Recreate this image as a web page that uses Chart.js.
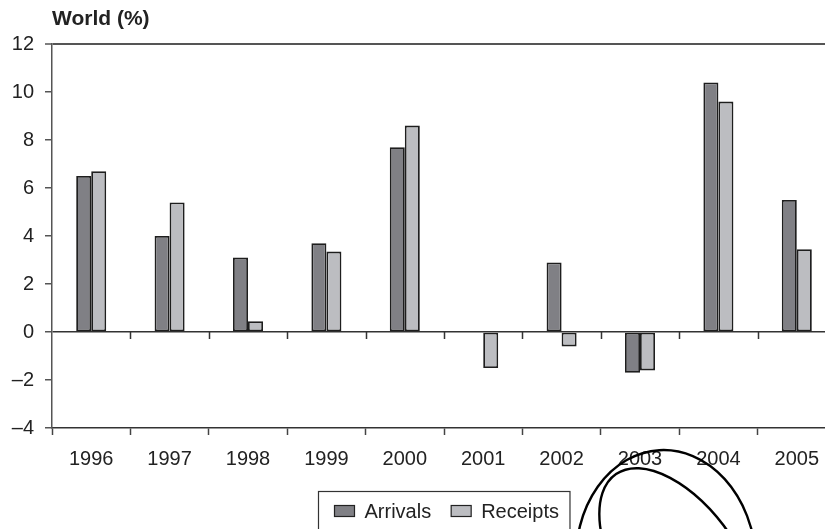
<!DOCTYPE html>
<html>
<head>
<meta charset="utf-8">
<script src="https://cdn.jsdelivr.net/npm/chart.js@4/dist/chart.umd.min.js"></script>
<style>
    html, body { margin: 0; padding: 0; background: #fff; overflow: hidden; }
    #wrap { width: 825px; height: 529px; overflow: hidden; position: relative; }
    #box { width: 845px; height: 540px; }
</style>
</head>
<body>
<div id="wrap"><div id="box"><canvas id="worldChart"></canvas></div></div>
<script>
const years = ['1996', '1997', '1998', '1999', '2000', '2001', '2002', '2003', '2004', '2005'];
const arrivals = [6.5, 4.0, 3.1, 3.7, 7.7, 0, 2.9, -1.7, 10.4, 5.5];
const receipts = [6.7, 5.4, 0.45, 3.35, 8.6, -1.5, -0.6, -1.6, 9.6, 3.45];
const yMin = -4, yMax = 12, yStep = 2;

const FONT = 'Arial, "Liberation Sans", sans-serif';

// titulo, marcas no zero, legenda com moldura e o circulo desenhado a mao
const extras = {
    id: 'extras',
    afterDatasetsDraw(chart) {
        const ctx = chart.ctx;
        const x = chart.scales.x, y = chart.scales.y;
        const y0 = y.getPixelForValue(0);
        ctx.save();
        ctx.strokeStyle = '#333';
        ctx.lineWidth = 1.5;
        ctx.beginPath();
        for (let i = 0; i < years.length - 1; i++) {
            const bx = Math.round((x.getPixelForValue(i) + x.getPixelForValue(i + 1)) / 2) + 0.5;
            ctx.moveTo(bx, y0);
            ctx.lineTo(bx, y0 + 7);
        }
        ctx.stroke();
        ctx.restore();
    },
    afterDraw(chart) {
        const ctx = chart.ctx;
        const area = chart.chartArea;
        ctx.save();

        // titulo
        ctx.fillStyle = '#222';
        ctx.font = 'bold 21px ' + FONT;
        ctx.textBaseline = 'middle';
        ctx.textAlign = 'left';
        ctx.fillText('World (%)', area.left, 19);

        // legenda
        ctx.font = '20px ' + FONT;
        const items = chart.data.datasets.map(d => ({ label: d.label, color: d.backgroundColor }));
        const widths = items.map(it => ctx.measureText(it.label).width);
        const padL = 16, sw = 20, sh = 11, gapT = 10, gapI = 20, padR = 11;
        const total = padL + sw + gapT + widths[0] + gapI + sw + gapT + widths[1] + padR;
        const cx = (area.left + area.right) / 2;
        const bx = Math.round(cx - total / 2) + 0.5;
        const by = 491.5, bh = 42, my = 511;
        ctx.strokeStyle = '#333';
        ctx.lineWidth = 1.2;
        ctx.strokeRect(bx, by, total, bh);
        let px = bx + padL;
        items.forEach((it, i) => {
            ctx.fillStyle = it.color;
            ctx.fillRect(px, my - sh / 2, sw, sh);
            ctx.strokeStyle = '#222';
            ctx.lineWidth = 1.2;
            ctx.strokeRect(px, my - sh / 2, sw, sh);
            px += sw + gapT;
            ctx.fillStyle = '#222';
            ctx.fillText(it.label, px, my + 1);
            px += widths[i] + gapI;
        });

        // anotacao a mao (duas elipses)
        ctx.strokeStyle = '#000';
        ctx.lineWidth = 2.4;
        ctx.beginPath();
        ctx.ellipse(666, 562, 90, 112, -0.06, 0, Math.PI * 2);
        ctx.stroke();
        ctx.beginPath();
        ctx.ellipse(681, 569, 60, 115, -0.6, 0, Math.PI * 2);
        ctx.stroke();
        ctx.restore();
    }
};

const canvas = document.getElementById('worldChart');
new Chart(canvas.getContext('2d'), {
    type: 'bar',
    data: {
        labels: years,
        datasets: [
            {
                label: 'Arrivals',
                data: arrivals,
                backgroundColor: '#808085',
                borderColor: '#1e1e1e',
                borderWidth: 1.8,
                borderSkipped: false
            },
            {
                label: 'Receipts',
                data: receipts,
                backgroundColor: '#bcbdc1',
                borderColor: '#1e1e1e',
                borderWidth: 1.8,
                borderSkipped: false
            }
        ]
    },
    options: {
        responsive: true,
        maintainAspectRatio: false,
        animation: false,
        layout: { padding: { top: 44, right: 9, left: 0, bottom: 0 } },
        datasets: { bar: { categoryPercentage: 0.383, barPercentage: 1.0 } },
        plugins: {
            legend: { display: false },
            tooltip: { enabled: false },
            title: { display: false }
        },
        scales: {
            x: {
                grid: {
                    offset: true,
                    drawOnChartArea: false,
                    tickLength: 7,
                    tickColor: '#444',
                    tickWidth: 1.5
                },
                border: { color: '#333', width: 1.5 },
                ticks: {
                    color: '#222',
                    padding: 12,
                    font: { family: FONT, size: 20 }
                },
                afterFit(scale) { scale.height = 112; }
            },
            y: {
                min: yMin,
                max: yMax,
                grid: {
                    color: c => (c.tick && (c.tick.value === 0 || c.tick.value === yMax)) ? (c.tick.value === 0 ? '#333' : '#555') : 'transparent',
                    lineWidth: c => (c.tick && c.tick.value === yMax) ? 2 : 1.5,
                    tickColor: '#555',
                    tickWidth: 1.5,
                    tickLength: 7
                },
                border: { color: '#555', width: 1.5 },
                ticks: {
                    stepSize: yStep,
                    color: '#222',
                    padding: 11,
                    font: { family: FONT, size: 20 },
                    callback: v => v < 0 ? '\u2013' + Math.abs(v) : v
                },
                afterFit(scale) { scale.width = 52; }
            }
        }
    },
    plugins: [extras]
});
</script>
</body>
</html>
